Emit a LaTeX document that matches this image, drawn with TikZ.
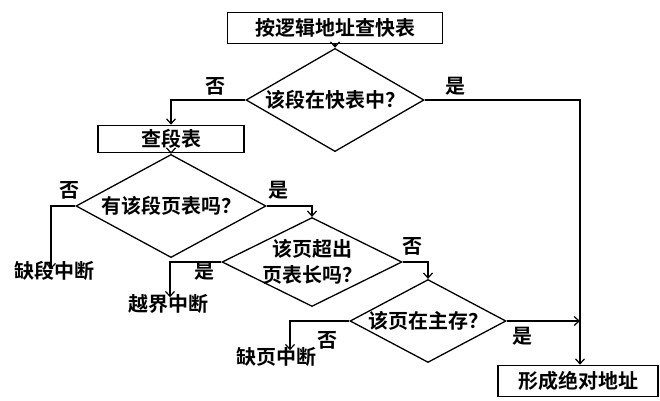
\documentclass[tikz,border=0pt]{standalone}
\usepackage{fontspec}
\newfontfamily\cjk{Noto Sans CJK SC}[BoldFont=* Bold]
\usetikzlibrary{shapes.geometric,arrows.meta}
\begin{document}
\begin{tikzpicture}[x=1pt,y=-1pt,
  every node/.style={font=\cjk\bfseries\fontsize{20}{26}\selectfont},
  procbox/.style={draw,line width=1.6pt,inner sep=0pt,minimum height=31pt},
  decide/.style={draw,diamond,line width=1.3pt,inner sep=-14pt,align=center},
  lbl/.style={inner sep=0pt},
  flow/.style={line width=1.2pt,-{Straight Barb[length=5pt,width=9pt,line width=1.2pt]}},
  plain/.style={line width=1.2pt}]
\useasboundingbox (0,0) rectangle (660,400);
\node[procbox,minimum width=215pt] (b1) at (335,28) {按逻辑地址查快表};
\node[decide,minimum width=178pt,minimum height=70pt] (d1) at (335,100) {该段在快表中？};
\node[procbox,minimum width=146pt,minimum height=27pt] (b2) at (171,139) {查段表};
\node[decide,minimum width=190pt,minimum height=69pt] (d2) at (171,206) {有该段页表吗？};
\node[decide,minimum width=180pt,minimum height=79pt] (d3) at (312,262) {该页超出\\页表长吗？};
\node[decide,minimum width=156pt,minimum height=72pt] (d4) at (428,321) {该页在主存？};
\node[procbox,minimum width=160pt] (b3) at (578,381) {形成绝对地址};
\node[lbl] (t1) at (54,271) {缺段中断};
\node[lbl] (t2) at (168,304) {越界中断};
\node[lbl] (t3) at (276,357) {缺页中断};
\node[lbl] (n1) at (215,86) {否};
\node[lbl] (y1) at (455,86) {是};
\node[lbl] (n2) at (69,190) {否};
\node[lbl] (y2) at (278,190) {是};
\node[lbl] (n3) at (412,246) {否};
\node[lbl] (y3) at (204,271) {是};
\node[lbl] (n4) at (327,340) {否};
\node[lbl] (y4) at (522,336) {是};
\coordinate (j) at (580,321);
\draw[flow] (b1) -- (d1);
\draw[flow] (d1.west) -| (b2.north);
\draw[flow] (d1.east) -| (b3.north -| j);
\draw[flow] (b2) -- (d2);
\draw[flow] (d2.west) -| ([yshift=-8pt]t1.north -| 51,0);
\draw[flow] (d2.east) -| (d3.north);
\draw[flow] (d3.west) -| ([yshift=-3pt]t2.north -| 170,0);
\draw[flow] (d3.east) -| (d4.north);
\draw[flow] (d4.west) -| ([yshift=-3pt]t3.north -| 290,0);
\draw[flow] (d4.east) -- (j);
\end{tikzpicture}
\end{document}
